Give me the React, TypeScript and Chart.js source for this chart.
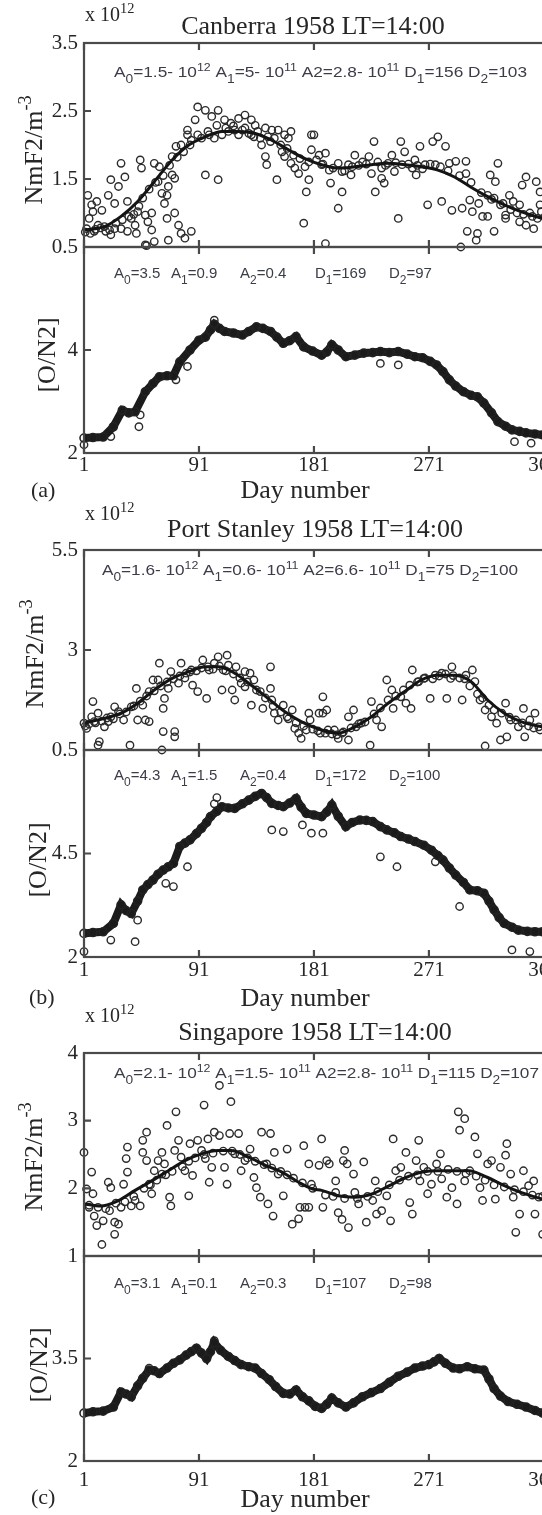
import React, { useEffect, useRef } from "react";
import { Chart, registerables } from "chart.js";
Chart.register(...registerables);

const SERIF = '"Liberation Serif", "Times New Roman", serif';
const SANS = '"Liberation Sans", Arial, sans-serif';
const TEXT = "#262626";
const ANN = "#3a3d48";
const FRAME = "#4a4a4a";

const dayTicks = [1, 91, 181, 271, 361];

// ---------- Canberra ----------
const canberraFitDays = [1, 17, 30, 43, 56, 70, 83, 96, 109, 122, 135, 148, 161, 174, 187, 200, 213, 226, 239, 252, 265, 278, 291, 303, 317, 330, 343, 360, 365];
const canberraFitVals = [0.75, 0.8, 0.95, 1.17, 1.46, 1.78, 2.0, 2.12, 2.2, 2.2, 2.17, 2.07, 1.93, 1.8, 1.71, 1.66, 1.68, 1.71, 1.73, 1.71, 1.68, 1.63, 1.53, 1.39, 1.24, 1.12, 1.02, 0.92, 0.9];
const canberraNmF2 = [
  [4, 1.26], [7, 1.12], [11, 1.17], [8, 1.02], [15, 1.04], [5, 0.92], [3, 0.77], [9, 0.73], [18, 0.73], [22, 0.68], [25, 0.77], [12, 0.82], [20, 1.26], [25, 1.14], [22, 1.49], [28, 1.39], [33, 1.53], [35, 1.17], [30, 0.77], [35, 0.73], [41, 0.82], [42, 0.7], [38, 0.92], [43, 1.02], [49, 0.97], [54, 1.0], [51, 0.87], [54, 0.75], [56, 0.58], [49, 0.53], [45, 1.78], [30, 1.73], [46, 1.66], [56, 1.73], [60, 1.68], [59, 1.46], [62, 1.29], [66, 1.26], [64, 1.14], [67, 1.39], [70, 1.56], [72, 1.51], [66, 0.92], [72, 1.0], [75, 0.82], [77, 0.7], [85, 0.73], [80, 0.63], [67, 0.6], [70, 1.83], [73, 1.98], [77, 2.0], [82, 2.22], [88, 2.37], [90, 2.56], [96, 2.51], [96, 1.56], [106, 1.49], [101, 2.42], [106, 2.51], [105, 2.29], [111, 2.37], [116, 2.32], [122, 2.39], [127, 2.44], [132, 2.37], [135, 2.29], [127, 2.25], [119, 2.22], [114, 2.2], [109, 2.15], [98, 2.2], [90, 2.15], [82, 2.15], [85, 2.07], [103, 2.1], [122, 2.15], [130, 2.17], [137, 2.2], [143, 2.25], [148, 2.22], [153, 2.22], [158, 2.15], [161, 2.1], [140, 2.0], [143, 1.83], [144, 1.71], [152, 1.49], [156, 1.9], [158, 1.83], [163, 1.73], [166, 1.66], [169, 1.58], [174, 1.68], [177, 1.49], [179, 1.93], [177, 1.75], [175, 1.31], [173, 0.85], [179, 2.15], [163, 2.2], [150, 2.1], [145, 2.12], [132, 2.15], [50, 0.52], [190, 0.55], [296, 0.5],
  [181, 2.15], [185, 1.85], [190, 1.88], [187, 1.71], [193, 1.63], [194, 1.44], [200, 1.73], [203, 1.31], [200, 1.07], [208, 1.71], [213, 1.85], [219, 1.75], [224, 1.83], [226, 1.58], [228, 2.05], [234, 1.51], [236, 1.44], [229, 1.31], [234, 1.66], [242, 1.85], [249, 2.05], [247, 0.92], [250, 1.71], [258, 1.66], [264, 1.98], [261, 1.56], [270, 1.12], [274, 2.05], [278, 2.12], [281, 1.17], [284, 1.98], [276, 1.71], [287, 1.73], [292, 1.76], [289, 1.04], [297, 1.07], [300, 1.76], [300, 1.58], [303, 1.19], [305, 1.02], [301, 0.73], [309, 0.7], [308, 0.6], [313, 0.95], [317, 1.26], [319, 1.56], [325, 1.73], [323, 1.46], [322, 1.22], [322, 0.73], [329, 1.14], [331, 0.97], [334, 1.26], [337, 1.17], [342, 1.12], [347, 1.53], [344, 1.41], [347, 0.82], [353, 0.77], [355, 1.46], [358, 1.31], [359, 1.02], [342, 0.87], [331, 0.92], [317, 0.95], [358, 1.12], [350, 1.0], [310, 1.14], [203, 1.61], [210, 1.56], [239, 1.73], [244, 1.61], [260, 1.78], [268, 1.71], [252, 1.9],
  [183, 1.78], [188, 1.72], [196, 1.66], [205, 1.62], [211, 1.68], [216, 1.7], [222, 1.72], [231, 1.75], [237, 1.7], [245, 1.74], [255, 1.72], [262, 1.7], [266, 1.65], [272, 1.72], [280, 1.68], [286, 1.62], [295, 1.55], [304, 1.45], [312, 1.3], [320, 1.2], [327, 1.12], [335, 1.05], [340, 1.0], [345, 0.98], [352, 0.95], [356, 0.92], [362, 0.95], [364, 1.05],
  [2, 0.72], [6, 0.7], [10, 0.76], [14, 0.78], [17, 0.8], [21, 0.75], [26, 0.85], [31, 0.9], [36, 0.95], [40, 0.98], [44, 1.1], [47, 1.22], [52, 1.35], [57, 1.45], [63, 1.55], [68, 1.7], [74, 1.82], [79, 1.9], [84, 2.0], [93, 2.1], [99, 2.15], [112, 2.25], [118, 2.28], [125, 2.22], [134, 2.12], [139, 2.1], [147, 2.05], [155, 2.0], [160, 1.95], [165, 1.85], [170, 1.8],
];
const canberraOnDays = [1, 8, 16, 24, 31, 36, 41, 49, 55, 60, 66, 71, 76, 84, 91, 96, 100, 103, 107, 111, 118, 125, 130, 136, 141, 147, 152, 157, 162, 167, 173, 180, 187, 191, 195, 200, 206, 213, 220, 227, 233, 240, 247, 254, 260, 266, 272, 277, 282, 287, 292, 298, 304, 309, 314, 320, 325, 331, 336, 342, 347, 354, 360, 365];
const canberraOnVals = [2.29, 2.3, 2.31, 2.51, 2.83, 2.78, 2.8, 3.19, 3.35, 3.48, 3.5, 3.5, 3.77, 4.0, 4.19, 4.25, 4.39, 4.5, 4.42, 4.36, 4.33, 4.29, 4.36, 4.45, 4.42, 4.36, 4.25, 4.13, 4.18, 4.26, 4.06, 3.98, 3.9, 3.96, 4.1, 4.0, 3.87, 3.9, 3.94, 3.95, 3.97, 3.95, 3.97, 3.92, 3.87, 3.85, 3.78, 3.71, 3.58, 3.42, 3.3, 3.19, 3.12, 3.09, 2.97, 2.78, 2.61, 2.52, 2.45, 2.42, 2.39, 2.37, 2.35, 2.33];
const canberraOnOut = [[44, 2.51], [45, 2.74], [73, 3.42], [82, 3.68], [233, 3.74], [247, 3.71], [338, 2.22], [351, 2.19], [1, 2.16], [22, 2.32], [103, 4.58]];

// ---------- Port Stanley ----------
const stanleyFitDays = [1, 17, 30, 43, 56, 70, 83, 96, 106, 119, 132, 145, 158, 171, 187, 200, 213, 226, 239, 252, 265, 278, 291, 304, 317, 330, 343, 360, 365];
const stanleyFitVals = [1.17, 1.29, 1.42, 1.67, 2.0, 2.29, 2.46, 2.58, 2.58, 2.42, 2.12, 1.79, 1.46, 1.21, 1.0, 0.92, 1.08, 1.33, 1.67, 1.96, 2.25, 2.37, 2.37, 2.21, 1.75, 1.42, 1.21, 1.08, 1.06];
const stanleyNmF2 = [
  [1, 1.17], [7, 1.33], [3, 1.04], [9, 1.21], [8, 1.71], [12, 1.42], [13, 0.71], [12, 0.62], [17, 1.08], [20, 1.21], [22, 1.33], [25, 1.58], [28, 1.46], [32, 1.25], [37, 0.62], [38, 1.58], [42, 2.04], [43, 1.25], [49, 1.25], [52, 1.21], [47, 1.62], [52, 1.96], [55, 2.25], [59, 2.25], [60, 2.67], [63, 1.54], [64, 1.79], [63, 0.96], [72, 0.96], [72, 0.83], [67, 2.04], [69, 2.46], [75, 2.17], [77, 2.67], [81, 2.42], [85, 2.5], [86, 2.12], [90, 1.96], [94, 2.75], [97, 1.79], [99, 2.5], [103, 2.67], [106, 2.83], [113, 2.87], [110, 2.5], [114, 2.62], [109, 2.0], [117, 2.0], [119, 1.75], [120, 2.58], [124, 2.17], [127, 2.08], [127, 2.46], [131, 2.42], [134, 2.25], [132, 1.62], [139, 1.96], [141, 1.54], [147, 2.58], [147, 2.04], [148, 1.75], [150, 1.42], [153, 1.25], [157, 1.62], [160, 1.33], [164, 1.5], [166, 1.04], [169, 0.92], [171, 0.79], [177, 1.42], [178, 1.25], [175, 1.0], [62, 0.5],
  [185, 1.42], [188, 1.83], [191, 1.5], [186, 0.92], [192, 1.0], [197, 1.0], [200, 0.79], [203, 0.92], [208, 1.33], [212, 1.5], [208, 0.75], [214, 1.08], [218, 1.17], [225, 0.62], [226, 1.71], [230, 1.25], [234, 1.08], [238, 2.25], [242, 2.0], [243, 1.54], [249, 1.83], [253, 1.67], [257, 1.54], [258, 2.5], [263, 2.21], [267, 2.29], [272, 1.79], [276, 2.37], [281, 2.42], [285, 1.79], [289, 2.58], [288, 2.29], [297, 1.75], [300, 2.37], [305, 2.5], [307, 2.21], [311, 1.75], [315, 1.5], [315, 0.6], [320, 1.33], [324, 1.17], [327, 0.75], [331, 1.67], [332, 0.83], [335, 1.25], [341, 1.08], [345, 1.54], [346, 0.83], [350, 1.25], [354, 1.42], [357, 1.08], [188, 1.42],
  [2, 1.1], [5, 1.15], [10, 1.18], [15, 1.22], [19, 1.3], [24, 1.28], [29, 1.4], [34, 1.45], [40, 1.6], [45, 1.72], [50, 1.85], [56, 1.98], [61, 2.1], [66, 2.2], [71, 2.28], [76, 2.35], [80, 2.3], [84, 2.45], [89, 2.48], [93, 2.55], [98, 2.58], [102, 2.52], [107, 2.6], [112, 2.48], [118, 2.4], [123, 2.3], [129, 2.2], [136, 2.0], [143, 1.8], [149, 1.6], [155, 1.45], [161, 1.28], [167, 1.18], [173, 1.1], [180, 1.02], [184, 0.98], [190, 0.92], [195, 0.9], [199, 0.88], [204, 0.95], [210, 1.05], [216, 1.15], [221, 1.2], [228, 1.4], [233, 1.55], [239, 1.75], [245, 1.85], [251, 2.0], [256, 2.12], [262, 2.2], [268, 2.3], [274, 2.28], [279, 2.35], [284, 2.4], [290, 2.36], [295, 2.3], [299, 2.28], [303, 2.1], [309, 1.9], [313, 1.8], [318, 1.62], [322, 1.5], [328, 1.42], [334, 1.32], [339, 1.25], [344, 1.18], [349, 1.1], [353, 1.05], [358, 1.0], [363, 0.98],
];
const stanleyOnDays = [1, 8, 16, 24, 30, 34, 38, 43, 47, 51, 55, 59, 63, 67, 71, 76, 80, 84, 89, 93, 97, 100, 105, 109, 114, 119, 125, 130, 135, 140, 144, 148, 153, 157, 162, 167, 171, 175, 181, 187, 191, 195, 200, 206, 211, 217, 222, 227, 233, 238, 244, 249, 255, 260, 267, 273, 278, 282, 287, 292, 298, 303, 309, 314, 318, 322, 326, 330, 336, 341, 348, 354, 360, 365];
const stanleyOnVals = [2.57, 2.59, 2.61, 2.81, 3.26, 3.12, 3.05, 3.35, 3.62, 3.75, 3.86, 4.0, 4.1, 4.18, 4.26, 4.67, 4.75, 4.83, 4.98, 5.11, 5.25, 5.39, 5.52, 5.63, 5.6, 5.59, 5.7, 5.79, 5.88, 5.95, 5.85, 5.71, 5.66, 5.63, 5.72, 5.83, 5.62, 5.47, 5.43, 5.39, 5.5, 5.67, 5.4, 5.15, 5.25, 5.31, 5.3, 5.27, 5.15, 5.07, 5.0, 4.91, 4.85, 4.79, 4.7, 4.58, 4.45, 4.34, 4.15, 3.98, 3.8, 3.62, 3.6, 3.54, 3.35, 3.14, 2.95, 2.81, 2.72, 2.65, 2.62, 2.61, 2.61, 2.6];
const stanleyOnOut = [[41, 2.37], [22, 2.41], [43, 2.89], [65, 3.78], [71, 3.7], [82, 4.18], [148, 5.07], [157, 5.03], [172, 5.19], [179, 4.99], [188, 4.99], [233, 4.42], [246, 4.18], [276, 4.3], [336, 2.17], [350, 2.13], [1, 2.13], [295, 3.22], [105, 5.85], [103, 5.7]];

// ---------- Singapore ----------
const singaporeFitDays = [1, 14, 28, 41, 54, 67, 80, 93, 106, 116, 130, 143, 156, 169, 180, 187, 200, 213, 227, 240, 253, 266, 278, 291, 302, 317, 330, 343, 360, 365];
const singaporeFitVals = [1.77, 1.74, 1.82, 1.97, 2.11, 2.26, 2.41, 2.51, 2.56, 2.56, 2.46, 2.34, 2.24, 2.09, 1.99, 1.97, 1.89, 1.87, 1.92, 2.04, 2.16, 2.24, 2.26, 2.26, 2.26, 2.16, 2.04, 1.94, 1.84, 1.82];
const singaporeNmF2 = [
  [1, 2.53], [7, 2.24], [3, 1.99], [8, 1.92], [5, 1.72], [9, 1.59], [11, 1.45], [15, 1.17], [16, 1.52], [20, 2.09], [22, 2.01], [21, 1.67], [25, 1.5], [25, 1.32], [28, 1.47], [32, 2.06], [30, 1.72], [34, 2.44], [35, 2.24], [35, 2.61], [38, 1.74], [45, 1.74], [41, 1.82], [47, 2.71], [50, 2.83], [47, 2.53], [50, 2.41], [52, 2.06], [54, 1.92], [56, 2.26], [62, 2.53], [59, 2.41], [62, 2.21], [66, 2.93], [64, 2.36], [68, 1.87], [69, 1.74], [73, 3.13], [72, 2.56], [75, 2.71], [77, 2.46], [80, 2.26], [83, 1.89], [84, 2.66], [86, 2.19], [90, 2.71], [93, 2.56], [96, 2.44], [95, 3.23], [98, 2.73], [101, 2.31], [99, 2.09], [103, 2.83], [107, 2.78], [107, 3.52], [111, 2.31], [113, 2.06], [116, 3.28], [115, 2.81], [122, 2.81], [119, 2.51], [124, 2.26], [127, 2.41], [131, 2.58], [134, 2.16], [136, 2.01], [139, 1.87], [140, 2.83], [147, 2.81], [144, 2.36], [145, 1.77], [149, 1.59], [150, 2.53], [153, 2.21], [157, 1.89], [160, 2.58], [164, 1.47], [169, 1.55], [170, 1.72], [174, 1.72], [177, 1.72], [173, 2.63], [177, 2.36], [179, 2.06],
  [185, 2.34], [187, 2.73], [188, 1.72], [191, 2.41], [193, 2.36], [198, 2.11], [198, 1.94], [200, 1.64], [203, 1.54], [204, 2.41], [205, 2.56], [207, 2.36], [208, 1.42], [212, 2.21], [213, 1.94], [216, 1.77], [220, 2.39], [222, 1.5], [227, 1.82], [229, 2.11], [230, 1.62], [234, 1.67], [238, 1.89], [241, 1.52], [243, 2.73], [245, 2.26], [249, 2.31], [253, 2.53], [256, 1.79], [258, 1.62], [261, 2.41], [263, 2.71], [264, 2.11], [267, 2.31], [270, 1.92], [273, 2.06], [277, 2.36], [280, 2.51], [281, 2.14], [285, 1.87], [289, 2.01], [293, 1.77], [294, 3.13], [299, 3.03], [295, 2.86], [299, 2.11], [303, 2.26], [307, 2.76], [309, 2.51], [311, 2.01], [313, 1.82], [317, 2.36], [320, 2.41], [323, 1.84], [327, 2.31], [331, 2.49], [332, 2.66], [335, 2.21], [337, 1.87], [339, 1.35], [342, 1.62], [345, 2.26], [349, 2.04], [353, 2.11], [354, 1.62], [357, 1.87], [360, 1.32],
  [5, 1.75], [12, 1.72], [18, 1.7], [26, 1.78], [33, 1.8], [40, 1.88], [48, 2.0], [53, 2.05], [58, 2.12], [65, 2.2], [70, 2.25], [78, 2.32], [83, 2.4], [88, 2.45], [95, 2.5], [102, 2.52], [110, 2.55], [117, 2.55], [123, 2.5], [129, 2.45], [135, 2.4], [142, 2.35], [148, 2.3], [155, 2.25], [160, 2.2], [165, 2.15], [172, 2.08], [180, 2.0], [190, 1.9], [196, 1.88], [205, 1.85], [215, 1.85], [223, 1.88], [231, 1.95], [240, 2.05], [248, 2.12], [255, 2.18], [262, 2.2], [270, 2.25], [278, 2.25], [286, 2.28], [293, 2.25], [300, 2.22], [308, 2.18], [315, 2.12], [322, 2.05], [330, 2.02], [338, 1.98], [345, 1.95], [352, 1.9], [360, 1.88],
];
const singaporeOnDays = [1, 8, 16, 24, 30, 34, 38, 43, 47, 52, 56, 60, 66, 71, 76, 81, 85, 89, 93, 97, 100, 103, 108, 114, 119, 124, 130, 135, 140, 146, 151, 157, 162, 167, 172, 177, 182, 187, 191, 195, 200, 206, 212, 219, 226, 233, 240, 247, 254, 260, 266, 271, 275, 279, 284, 290, 295, 301, 307, 314, 318, 322, 327, 333, 340, 347, 354, 360, 365];
const singaporeOnVals = [2.7, 2.72, 2.73, 2.79, 3.01, 2.98, 2.94, 3.1, 3.21, 3.33, 3.32, 3.28, 3.36, 3.43, 3.48, 3.55, 3.6, 3.65, 3.58, 3.5, 3.6, 3.73, 3.62, 3.53, 3.47, 3.41, 3.38, 3.36, 3.28, 3.19, 3.09, 2.99, 2.98, 3.04, 2.94, 2.88, 2.8, 2.77, 2.83, 2.92, 2.85, 2.79, 2.85, 2.94, 3.0, 3.06, 3.15, 3.24, 3.3, 3.36, 3.39, 3.41, 3.45, 3.5, 3.43, 3.36, 3.35, 3.38, 3.35, 3.33, 3.2, 3.06, 2.95, 2.87, 2.83, 2.79, 2.74, 2.7, 2.69];
const singaporeOnOut = [[103, 3.76], [52, 3.36]];

// ---------- text helpers ----------
type Run = { t: string; s?: number; dy?: number };
type TextItem = { runs: Run[]; x: number; y: number; size: number; fam: string; align: "left" | "center" | "right"; rotate?: boolean; width?: number; color?: string };
const sub = (t: string): Run => ({ t, s: 0.8, dy: 6 });
const sup = (t: string): Run => ({ t, s: 0.72, dy: -6 });

const xTen = (y: number): TextItem => ({ runs: [{ t: "x 10" }, { t: "12", s: 0.72, dy: -8 }], x: 85, y, size: 20, fam: SERIF, align: "left" });
const title = (t: string, x: number, y: number): TextItem => ({ runs: [{ t }], x, y, size: 26, fam: SERIF, align: "center" });
const nmLabel = (cx: number, cy: number): TextItem => ({ runs: [{ t: "NmF2/m" }, { t: "-3", s: 0.7, dy: -11 }], x: cx + 9, y: cy, size: 26, fam: SERIF, align: "center", rotate: true });
const onLabel = (cx: number, cy: number): TextItem => ({ runs: [{ t: "[O/N2]" }], x: cx + 9, y: cy, size: 26, fam: SERIF, align: "center", rotate: true });
const dayLabel = (y: number): TextItem => ({ runs: [{ t: "Day number" }], x: 305, y, size: 26, fam: SERIF, align: "center" });
const tag = (t: string, x: number, y: number): TextItem => ({ runs: [{ t }], x, y, size: 22, fam: SERIF, align: "left" });
const upperAnn = (a0: string, a1: string, a2: string, d1: string, d2: string, x: number, y: number, w: number): TextItem => ({
  runs: [{ t: "A" }, sub("0"), { t: "=" + a0 + "- 10" }, sup("12"), { t: " A" }, sub("1"), { t: "=" + a1 + "- 10" }, sup("11"), { t: " A2=" + a2 + "- 10" }, sup("11"), { t: " D" }, sub("1"), { t: "=" + d1 + " D" }, sub("2"), { t: "=" + d2 }],
  x, y, size: 15, fam: SANS, align: "left", width: w, color: ANN,
});
const lowerAnn = (vals: string[], y: number): TextItem[] => {
  const names = [["A", "0"], ["A", "1"], ["A", "2"], ["D", "1"], ["D", "2"]];
  const xs = [114, 171, 240, 315, 389];
  return names.map((n, i) => ({ runs: [{ t: n[0] }, sub(n[1]), { t: "=" + vals[i] }], x: xs[i], y, size: 15, fam: SANS, align: "left" as const, color: ANN }));
};

function drawItem(ctx: CanvasRenderingContext2D, it: TextItem) {
  const widths = it.runs.map((r) => {
    ctx.font = `${it.size * (r.s ?? 1)}px ${it.fam}`;
    return ctx.measureText(r.t).width;
  });
  const total = widths.reduce((a, b) => a + b, 0);
  const sx = it.width ? it.width / total : 1;
  ctx.save();
  ctx.translate(it.x, it.y);
  if (it.rotate) ctx.rotate(-Math.PI / 2);
  ctx.scale(sx, 1);
  let x0 = it.align === "center" ? -total / 2 : it.align === "right" ? -total : 0;
  ctx.fillStyle = it.color ?? TEXT;
  ctx.textBaseline = "alphabetic";
  ctx.textAlign = "left";
  it.runs.forEach((r, i) => {
    ctx.font = `${it.size * (r.s ?? 1)}px ${it.fam}`;
    ctx.fillText(r.t, x0, r.dy ?? 0);
    x0 += widths[i];
  });
  ctx.restore();
}

// ---------- panels ----------
type Panel = {
  top: number; bottom: number; yMin: number; yMax: number; yLabels: number[]; yMarks: number[];
  showX: boolean; xPad: number;
  scatter?: number[][]; fitDays?: number[]; fitVals?: number[];
  bandDays?: number[]; bandVals?: number[]; outliers?: number[][];
  texts: TextItem[];
};

const panels: Panel[] = [
  {
    top: 43, bottom: 247, yMin: 0.5, yMax: 3.5, yLabels: [0.5, 1.5, 2.5, 3.5], yMarks: [1.5, 2.5], showX: false, xPad: 0,
    scatter: canberraNmF2, fitDays: canberraFitDays, fitVals: canberraFitVals,
    texts: [xTen(21), title("Canberra 1958 LT=14:00", 313, 34), nmLabel(33, 150), upperAnn("1.5", "5", "2.8", "156", "103", 114, 77, 413)],
  },
  {
    top: 247, bottom: 453, yMin: 2, yMax: 6, yLabels: [2, 4], yMarks: [4], showX: true, xPad: 0,
    bandDays: canberraOnDays, bandVals: canberraOnVals, outliers: canberraOnOut,
    texts: [...lowerAnn(["3.5", "0.9", "0.4", "169", "97"], 278), onLabel(46, 355), dayLabel(498), tag("(a)", 31, 497)],
  },
  {
    top: 550, bottom: 750, yMin: 0.5, yMax: 5.5, yLabels: [0.5, 3, 5.5], yMarks: [3], showX: false, xPad: 0,
    scatter: stanleyNmF2, fitDays: stanleyFitDays, fitVals: stanleyFitVals,
    texts: [xTen(520), title("Port Stanley 1958 LT=14:00", 315, 537), nmLabel(34, 654), upperAnn("1.6", "0.6", "6.6", "75", "100", 102, 575, 416)],
  },
  {
    top: 750, bottom: 957, yMin: 2, yMax: 7, yLabels: [2, 4.5], yMarks: [4.5], showX: true, xPad: 1,
    bandDays: stanleyOnDays, bandVals: stanleyOnVals, outliers: stanleyOnOut,
    texts: [...lowerAnn(["4.3", "1.5", "0.4", "172", "100"], 780), onLabel(37, 860), dayLabel(1006), tag("(b)", 29, 1004)],
  },
  {
    top: 1053, bottom: 1256, yMin: 1, yMax: 4, yLabels: [1, 2, 3, 4], yMarks: [2, 3], showX: false, xPad: 0,
    scatter: singaporeNmF2, fitDays: singaporeFitDays, fitVals: singaporeFitVals,
    texts: [xTen(1022), title("Singapore 1958 LT=14:00", 315, 1040), nmLabel(33, 1157), upperAnn("2.1", "1.5", "2.8", "115", "107", 114, 1078, 425)],
  },
  {
    top: 1256, bottom: 1461, yMin: 2, yMax: 5, yLabels: [2, 3.5], yMarks: [3.5], showX: true, xPad: 7,
    bandDays: singaporeOnDays, bandVals: singaporeOnVals, outliers: singaporeOnOut,
    texts: [...lowerAnn(["3.1", "0.1", "0.3", "107", "98"], 1288), onLabel(38, 1365), dayLabel(1507), tag("(c)", 31, 1504)],
  },
];

const CW = 600;
const PAD_T = 50;
const PAD_B = 60;
const AXIS_W = 84;
const PAD_R = 51;

function circleSet(pairs: number[][]) {
  return {
    type: "scatter" as const,
    data: pairs.map((p) => ({ x: p[0], y: p[1] })),
    pointStyle: "circle",
    pointRadius: 3.7,
    borderWidth: 1.4,
    borderColor: "#2b2b2b",
    backgroundColor: "rgba(0,0,0,0)",
    showLine: false,
    clip: 6,
    order: 3,
  };
}

function PanelChart({ p }: { p: Panel }) {
  const ref = useRef<HTMLCanvasElement>(null);
  const H = p.bottom - p.top + PAD_T + PAD_B;
  const canvasTop = p.top - PAD_T;
  useEffect(() => {
    const canvas = ref.current;
    if (!canvas) return;
    const datasets: any[] = [];
    if (p.scatter) datasets.push(circleSet(p.scatter));
    if (p.fitDays && p.fitVals) {
      datasets.push({
        type: "line",
        data: p.fitDays.map((d, i) => ({ x: d, y: p.fitVals![i] })),
        borderColor: "#141414",
        borderWidth: 3,
        pointRadius: 0,
        cubicInterpolationMode: "monotone",
        fill: false,
        clip: 2,
        order: 1,
      });
    }
    if (p.outliers) datasets.push(circleSet(p.outliers));
    if (p.bandDays && p.bandVals) {
      datasets.push({
        type: "line",
        data: p.bandDays.map((d, i) => ({ x: d, y: p.bandVals![i] })),
        borderColor: "#1b1b1b",
        borderWidth: 8,
        pointStyle: "circle",
        pointRadius: 4,
        pointBorderWidth: 1.6,
        pointBorderColor: "#222",
        pointBackgroundColor: "rgba(0,0,0,0)",
        tension: 0,
        fill: false,
        clip: 6,
        order: 1,
      });
    }
    const deco = {
      id: "deco",
      afterDatasetsDraw(chart: any) {
        const ctx: CanvasRenderingContext2D = chart.ctx;
        const ca = chart.chartArea;
        const xs = chart.scales.x;
        const ys = chart.scales.y;
        ctx.save();
        ctx.strokeStyle = FRAME;
        ctx.lineWidth = 2.2;
        ctx.strokeRect(ca.left, ca.top, ca.right - ca.left, ca.bottom - ca.top);
        ctx.beginPath();
        dayTicks.forEach((v) => {
          const px = xs.getPixelForValue(v);
          ctx.moveTo(px, ca.bottom);
          ctx.lineTo(px, ca.bottom - 7);
          ctx.moveTo(px, ca.top);
          ctx.lineTo(px, ca.top + 7);
        });
        p.yMarks.forEach((v) => {
          const py = ys.getPixelForValue(v);
          ctx.moveTo(ca.left, py);
          ctx.lineTo(ca.left + 7, py);
          ctx.moveTo(ca.right, py);
          ctx.lineTo(ca.right - 7, py);
        });
        ctx.stroke();
        ctx.translate(0, -canvasTop);
        p.texts.forEach((t) => drawItem(ctx, t));
        ctx.restore();
      },
    };
    const chart = new Chart(canvas, {
      type: "scatter",
      data: { datasets },
      options: {
        animation: false,
        responsive: false,
        devicePixelRatio: 1,
        layout: { padding: { top: PAD_T, right: PAD_R, left: 0, bottom: 0 } },
        plugins: { legend: { display: false }, tooltip: { enabled: false }, title: { display: false } },
        scales: {
          x: {
            type: "linear",
            min: 1,
            max: 365,
            afterBuildTicks: (s: any) => {
              s.ticks = dayTicks.map((v) => ({ value: v }));
            },
            afterFit: (s: any) => {
              s.height = PAD_B;
            },
            grid: { display: false, drawTicks: false },
            border: { display: false },
            ticks: {
              display: p.showX,
              autoSkip: false,
              maxRotation: 0,
              padding: p.xPad,
              color: TEXT,
              font: { family: SERIF, size: 21 },
              callback: (v: any) => String(v),
            },
          },
          y: {
            type: "linear",
            min: p.yMin,
            max: p.yMax,
            afterBuildTicks: (s: any) => {
              s.ticks = p.yLabels.map((v) => ({ value: v }));
            },
            afterFit: (s: any) => {
              s.width = AXIS_W;
            },
            grid: { display: false, drawTicks: false },
            border: { display: false },
            ticks: {
              padding: 6,
              color: TEXT,
              font: { family: SERIF, size: 21 },
              callback: (v: any) => String(v),
            },
          },
        },
      } as any,
      plugins: [deco],
    } as any);
    return () => chart.destroy();
  }, [p]);
  return (
    <canvas
      ref={ref}
      width={CW}
      height={H}
      style={{ position: "absolute", left: 0, top: canvasTop, width: CW, height: H }}
    />
  );
}

export default function App() {
  return (
    <div
      style={{
        position: "fixed",
        left: 0,
        top: 0,
        width: 542,
        height: 1515,
        overflow: "hidden",
        background: "#fff",
      }}
    >
      {panels.map((p, i) => (
        <PanelChart key={i} p={p} />
      ))}
    </div>
  );
}
